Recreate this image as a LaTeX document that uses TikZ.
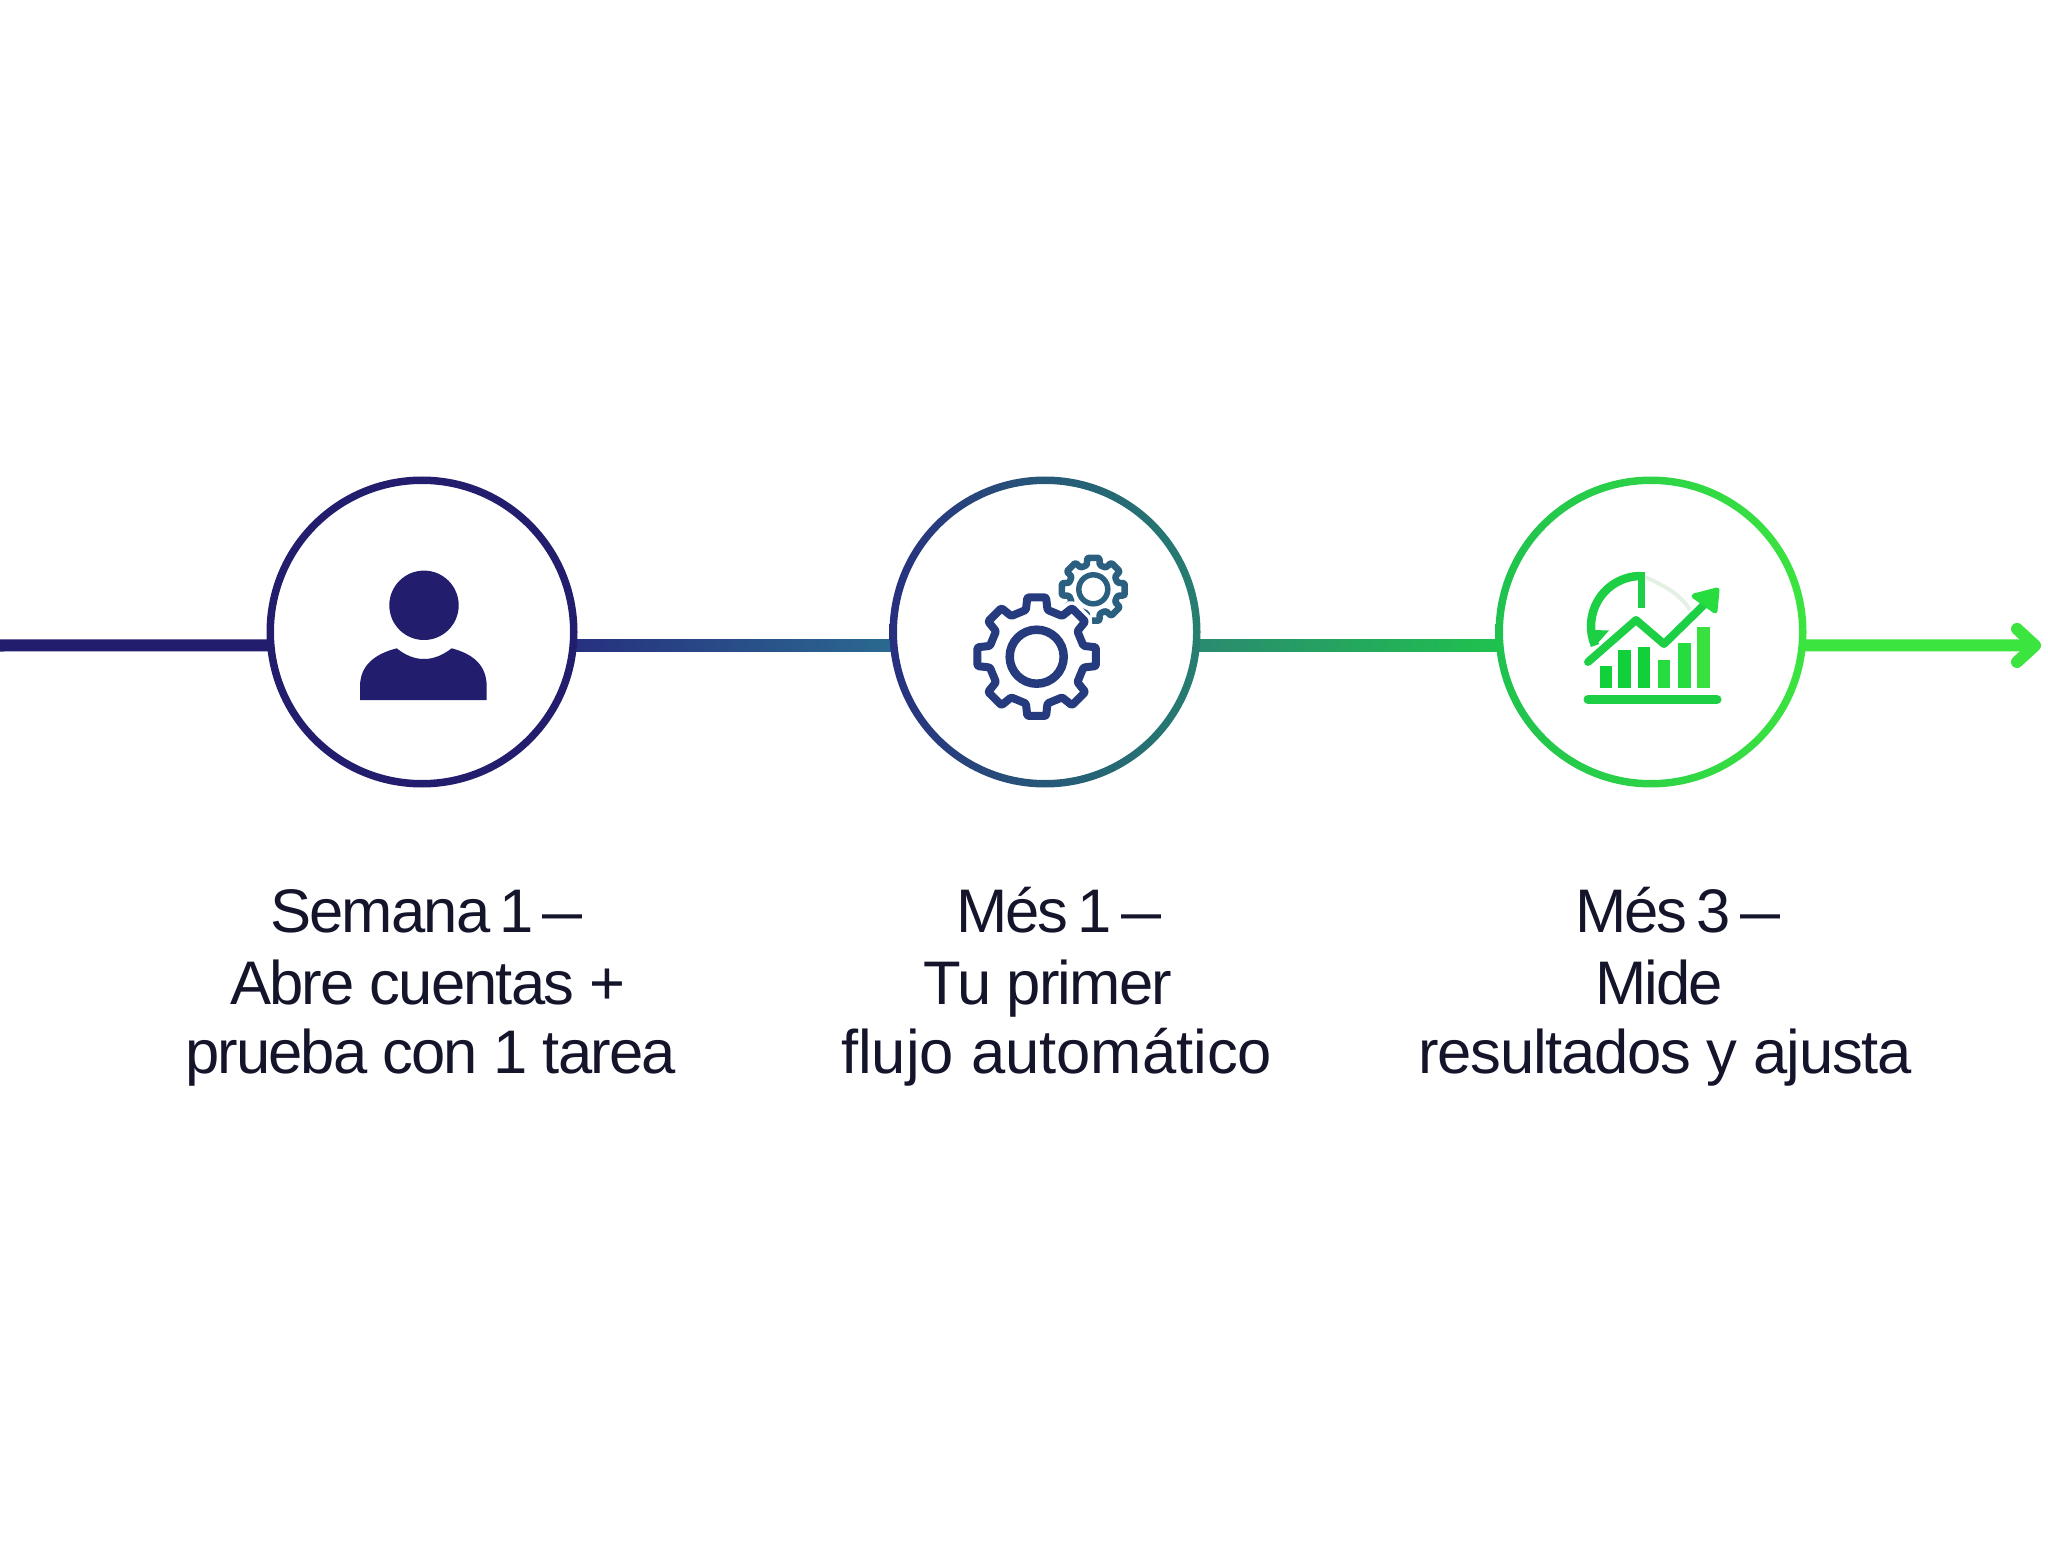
\documentclass[tikz,border=0pt]{standalone}
\usepackage{graphicx, tikz}
\usepackage{fontspec}
\setmainfont[LetterSpace=-3]{Liberation Sans}
\usetikzlibrary{calc, arrows.meta}
\definecolor{navy}{HTML}{221D6C}
\definecolor{navyb}{HTML}{27307F}
\definecolor{gearb}{HTML}{263A7E}
\definecolor{tealb}{HTML}{2A6A90}
\definecolor{gears}{HTML}{2A5F80}
\definecolor{tealc}{HTML}{267F70}
\definecolor{greena}{HTML}{2A8A70}
\definecolor{greenb}{HTML}{1FC24E}
\definecolor{greenc}{HTML}{3BE43F}
\definecolor{chart}{HTML}{1DCF45}
\definecolor{bara}{HTML}{12D03A}
\definecolor{barb}{HTML}{26DC3E}
\definecolor{barc}{HTML}{38E040}
\definecolor{ink}{HTML}{14142B}
\tikzset{
  stage/.style={circle, minimum size=3.04cm, inner sep=0pt, outer sep=0pt},
  link/.style={line width=0.12cm},
  lbl/.style={anchor=base, text=ink, font=\fontsize{17.5}{20}\selectfont},
}
% link with a colour running from left to right
\newcommand{\gradlink}[4]{
  \draw[link, draw=#3!50!#4] (#1) -- (#2);
  \shade[left color=#3, right color=#4] ($(#1)+(0,-6)$) rectangle ($(#2)+(0,6)$);
}
% ring on a stage
\newcommand{\ring}[3]{
  \shade[left color=#2, right color=#3, even odd rule] (#1) circle (155.5) circle (148);
}
% toothed wheel: centre, tip radius, root radius, half widths in degrees
\newcommand{\wheel}[5]{
  ($(#1)+(-#5:#3)$)
  \foreach \a in {0,45,...,315} {
    -- ($(#1)+(\a-#5:#3)$) -- ($(#1)+(\a-#4:#2)$) -- ($(#1)+(\a+#4:#2)$) -- ($(#1)+(\a+#5:#3)$)
  } -- cycle
}
\newcommand{\tight}{\kern-.1em{} }
\newcommand{\shortdash}{\scalebox{.65}[1]{—}}
\begin{document}
\begin{tikzpicture}[x=0.01cm, y=-0.01cm]
  \useasboundingbox (0,0) rectangle (2048,1555);

  \node[stage] (weekone) at (422,632) {};
  \node[stage] (monthone) at (1045,632) {};
  \node[stage] (monththree) at (1651,632) {};
  \coordinate (start) at (0,645.5);
  \coordinate (tip) at (2041,645.5);

  \draw[link, navy] (start) -- (weekone.185);
  \gradlink{weekone.-5}{monthone.185}{navyb}{tealb}
  \gradlink{monthone.-5}{monththree.185}{greena}{greenb}
  \draw[link, greenc, -{Straight Barb[round, length=0.18cm, width=0.33cm, line width=0.12cm]}] (monththree.-5) -- (tip);

  \ring{weekone}{navy}{navy}
  \ring{monthone}{navyb}{tealc}
  \ring{monththree}{greenb}{greenc}

  % person
  \coordinate (head) at (424,605.3);
  \fill[navy] (head) circle (34.7);
  \fill[navy] (360,700) -- (360,686.7) .. controls (360,665) and (375,654) .. (396.7,648.3)
    .. controls (405,655) and (414,659) .. (424,659)
    .. controls (434,659) and (443,655) .. (451.7,648.3)
    .. controls (473,654) and (486.7,665) .. (486.7,686.7) -- (486.7,700) -- cycle;

  % gears
  \coordinate (small) at (1093.3,589.3);
  \coordinate (big) at (1036.7,656.7);
  \draw[line width=0.065cm, gears, line join=round, rounded corners=0.012cm] \wheel{small}{32}{25}{11}{15};
  \draw[line width=0.055cm, gears] (small) circle (14.5);
  \draw[line width=0.15cm, white, fill=white, rounded corners=0.012cm] \wheel{big}{60}{48}{9}{13};
  \draw[line width=0.08cm, gearb, line join=round, rounded corners=0.012cm] \wheel{big}{60}{48}{9}{13};
  \draw[line width=0.085cm, gearb] (big) circle (27);

  % chart
  \draw[line width=0.09cm, line cap=round, chart] (1588,699.5) -- (1717,699.5);
  \fill[bara] (1599.6,666) rectangle (1612.2,688.3);
  \fill[bara] (1618.4,650) rectangle (1631,688.3);
  \fill[bara] (1637.6,646.7) rectangle (1650.3,688.3);
  \fill[barb] (1657.5,660) rectangle (1670.2,688.3);
  \fill[barb] (1678,643.3) rectangle (1690.5,688.3);
  \fill[barc] (1697.4,626.7) rectangle (1709.7,688.3);
  \draw[line width=0.04cm, green!40!black!10] (1645,577) .. controls (1665,586) and (1680,594) .. (1690,610);
  \draw[line width=0.085cm, chart] (1641,576) arc[start angle=-90, end angle=-203, radius=50];
  \draw[line width=0.07cm, chart] (1641,572) -- (1641,608);
  \fill[chart] (1594,630) -- (1609,630.5) -- (1597,644) -- cycle;
  \draw[line width=0.08cm, line join=round, line cap=round, chart] (1588,662) -- (1636,620) -- (1664,644) -- (1712,597);
  \draw[line width=0.05cm, line join=round, line cap=round, barb, fill=barb] (1694,596) -- (1717,590) -- (1715,611) -- cycle;

  % labels
  \node[lbl] (weekonea) at (426.5,932) {Semana\tight 1\tight\shortdash};
  \node[lbl] (weekoneb) at (427.7,1004) {Abre cuentas +};
  \node[lbl] (weekonec) at (430.4,1073) {prueba con 1 tarea};
  \node[lbl] (monthonea) at (1058.6,932) {Més\tight 1\tight\shortdash};
  \node[lbl] (monthoneb) at (1048,1004) {Tu primer};
  \node[lbl] (monthonec) at (1056.6,1073) {\addfontfeature{LetterSpace=0}flujo automático};
  \node[lbl] (monththreea) at (1677.6,932) {Més\tight 3\tight\shortdash};
  \node[lbl] (monththreeb) at (1659,1004) {Mide};
  \node[lbl] (monththreec) at (1665,1073) {\addfontfeature{LetterSpace=-2}resultados y ajusta};
\end{tikzpicture}
\end{document}
